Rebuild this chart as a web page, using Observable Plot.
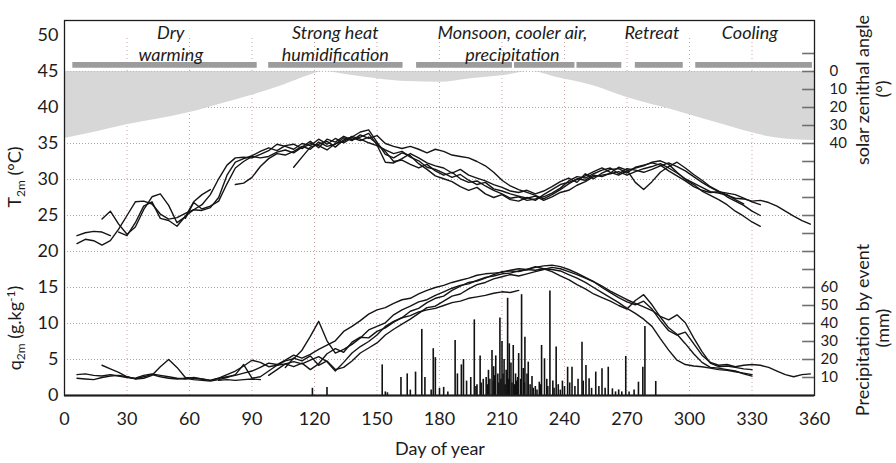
<!DOCTYPE html>
<html><head><meta charset="utf-8">
<script src="https://cdn.jsdelivr.net/npm/d3@7"></script>
<script src="https://cdn.jsdelivr.net/npm/@observablehq/plot@0.6"></script>
<style>html,body{margin:0;padding:0;background:#fff;}#chart{width:896px;height:463px;}</style>
</head><body><div id="chart"></div>
<script>
// ---- day grid (every 4 days) ----
const dayGrid = [2,6,10,14,18,22,26,30,34,38,
 42,46,50,54,58,62,66,70,74,78,
 82,86,90,94,98,102,106,110,114,118,
 122,126,130,134,138,142,146,150,154,158,
 162,166,170,174,178,182,186,190,194,198,
 202,206,210,214,218,222,226,230,234,238,
 242,246,250,254,258,262,266,270,274,278,
 282,286,290,294,298,302,306,310,314,318,
 322,326,330,334,338,342,346,350,354,358];
const _ = null;
// ---- 2 m temperature (°C), one array per year ----
const t1 = [_,21.1,21.7,21.5,20.9,21.5,23.1,25.0,26.9,27.0,
 26.6,25.2,24.5,24.7,25.3,25.8,25.7,26.1,27.5,30.6,
 32.4,32.9,33.3,33.9,34.4,34.0,34.7,34.9,34.3,35.0,
 34.7,34.1,35.0,35.3,36.0,35.6,35.1,34.7,34.1,33.6,
 33.9,33.1,32.6,31.7,31.4,30.9,30.3,30.7,29.9,29.3,
 29.6,28.7,28.4,28.0,27.7,27.4,27.7,27.1,27.6,28.2,
 28.5,29.2,29.7,30.4,30.6,30.8,31.1,30.6,31.1,31.5,
 31.8,32.2,31.6,30.9,30.1,29.5,28.9,28.3,28.1,27.8,
 27.4,27.3,27.0,27.1,26.8,26.3,25.6,24.9,24.3,23.8];
const t2 = [_,22.2,22.6,22.8,22.7,22.2,_,_,_,_,
 _,_,_,_,_,_,_,_,_,_,
 _,_,_,_,_,_,_,31.7,33.1,34.5,
 34.9,35.3,34.5,35.5,35.9,36.6,36.9,35.2,33.5,33.0,
 33.7,33.3,32.2,31.4,30.5,30.1,29.7,29.0,28.5,28.9,
 28.0,27.5,27.9,27.2,27.0,27.5,27.1,27.9,28.6,29.3,
 29.6,30.0,30.5,31.1,31.6,31.0,30.6,31.2,31.6,31.9,
 32.4,32.6,32.1,31.0,30.0,29.3,28.4,27.8,27.2,26.5,
 25.6,24.9,24.1,23.5,_,_,_,_,_,_];
const t3 = [_,_,_,_,24.5,25.6,23.8,22.4,23.4,25.8,
 27.6,28.0,26.4,24.0,24.8,26.9,27.9,28.6,_,_,
 29.3,29.5,30.3,31.8,32.9,33.6,33.4,33.9,34.6,34.2,
 35.2,34.6,34.9,35.8,35.4,36.2,35.7,36.1,35.0,34.6,
 34.3,34.6,34.2,33.7,34.2,33.9,33.4,33.2,33.0,32.5,
 31.9,31.0,29.9,29.1,28.6,28.2,27.8,27.3,27.9,28.6,
 29.4,30.1,29.9,30.6,30.4,30.9,31.7,31.3,29.6,28.6,
 29.7,31.0,31.8,32.4,31.6,30.7,29.9,29.0,28.4,27.6,
 27.0,26.4,25.6,25.0,_,_,_,_,_,_];
const t4 = [_,_,_,_,_,_,22.7,22.2,24.0,26.3,
 26.9,24.6,24.3,23.5,24.9,25.8,26.5,27.9,30.1,32.0,
 33.0,33.1,33.0,33.5,34.0,34.9,34.6,34.2,35.0,34.7,
 35.6,34.9,35.7,35.1,35.8,35.4,35.9,35.0,33.9,32.5,
 32.7,32.1,31.6,32.1,31.2,30.6,31.0,30.1,29.6,29.8,
 29.1,28.5,28.0,27.4,27.6,27.1,27.3,27.6,28.1,28.8,
 29.8,30.4,30.2,30.8,31.3,31.6,30.8,31.5,31.3,31.0,
 31.4,31.9,32.3,31.8,31.2,30.4,29.6,28.9,28.3,28.1,
 27.9,27.4,26.9,26.5,_,_,_,_,_,_];
const t5 = [_,_,_,_,_,_,_,_,_,_,
 _,_,_,_,24.6,26.8,25.9,26.3,27.0,29.4,
 31.6,32.5,33.2,33.0,33.2,33.8,34.1,33.7,34.5,35.3,
 34.4,35.6,35.2,36.0,35.5,35.9,36.4,34.8,32.4,32.3,
 32.9,33.6,33.0,32.3,31.9,31.6,30.9,31.4,30.6,30.2,
 29.8,29.3,28.9,28.4,28.2,28.5,28.0,28.4,29.0,29.7,
 30.2,29.6,30.8,30.1,30.9,31.4,31.5,30.9,31.7,32.0,
 32.3,32.0,31.2,30.5,29.8,29.0,28.5,28.2,28.3,27.9,
 27.2,26.6,_,_,_,_,_,_,_,_];
// ---- 2 m specific humidity (g/kg), one array per year ----
const q1 = [_,2.9,3.0,2.8,2.7,2.9,2.7,2.5,2.4,2.8,
 3.0,2.8,2.6,2.4,2.3,2.5,2.3,2.1,2.4,2.6,
 2.8,3.1,3.4,3.9,4.5,4.3,4.9,5.6,5.2,5.7,
 6.4,7.0,7.6,8.9,9.6,10.4,11.3,11.9,12.2,12.8,
 13.3,13.5,14.1,14.6,15.0,15.3,15.7,16.0,16.3,16.7,
 16.9,17.0,17.1,17.4,17.6,17.5,17.8,18.0,18.1,17.9,
 17.5,17.0,16.4,15.8,15.0,14.3,13.6,13.0,12.6,13.1,
 12.0,10.4,9.0,8.4,8.8,7.2,5.6,4.6,4.2,4.3,
 4.0,4.2,4.3,4.2,3.9,3.4,2.9,2.6,2.9,3.0];
const q2 = [_,2.4,2.3,2.2,2.5,2.7,2.8,2.6,2.3,2.4,
 2.8,4.0,5.0,3.9,2.5,2.4,2.3,2.1,2.4,2.9,
 3.4,4.1,4.9,4.6,4.0,4.2,4.8,5.1,6.3,8.2,
 10.3,7.6,5.9,6.4,7.1,8.0,9.1,9.6,10.1,11.2,
 11.9,12.4,13.0,13.3,13.9,14.4,14.9,15.3,15.5,16.0,
 16.4,16.6,16.9,17.0,17.3,17.5,17.4,17.6,17.5,17.3,
 16.8,16.3,15.7,15.0,14.3,13.6,12.9,12.1,11.4,10.6,
 9.6,7.9,6.3,4.9,4.3,4.1,4.0,3.8,3.6,3.5,
 3.3,3.1,2.9,_,_,_,_,_,_,_];
const q3 = [_,_,_,_,4.2,3.7,3.2,2.6,2.3,2.6,
 2.9,2.6,2.4,2.3,2.4,2.2,2.1,2.0,2.2,2.5,
 2.9,4.3,2.4,2.6,3.4,4.2,4.4,4.7,4.4,4.9,
 5.4,4.7,3.4,4.6,5.9,6.8,7.5,8.4,9.6,10.3,
 10.8,11.7,12.1,12.9,13.5,13.8,14.6,15.2,15.7,15.9,
 16.3,16.8,17.2,17.3,17.2,17.5,17.9,17.6,17.2,16.6,
 16.1,15.4,14.8,14.1,13.6,13.1,12.5,12.0,13.2,14.0,
 12.6,10.9,9.4,8.5,7.2,5.8,4.6,3.9,3.8,3.6,
 3.4,3.0,2.7,_,_,_,_,_,_,_];
const q4 = [_,_,_,_,_,_,_,_,_,_,
 _,_,_,_,_,_,_,_,2.1,2.2,
 2.1,2.2,2.3,2.2,_,_,3.9,5.2,4.8,5.5,
 4.2,4.8,3.6,3.9,4.8,5.9,6.6,7.3,8.4,9.2,
 9.9,10.6,11.4,12.2,12.4,13.1,13.8,14.1,14.8,15.4,
 15.7,16.2,16.5,16.8,16.6,16.9,17.2,17.5,17.8,17.6,
 17.2,16.8,16.3,15.8,15.2,14.5,13.9,13.3,12.8,12.3,
 11.8,11.0,10.5,11.2,10.1,8.0,6.1,4.5,4.0,4.1,
 3.9,3.7,3.6,_,_,_,_,_,_,_];
const q5 = [_,_,_,_,_,_,_,_,_,_,
 _,_,_,_,_,_,_,_,_,_,
 _,_,_,_,2.8,3.6,4.4,4.0,4.5,3.6,
 4.4,5.8,6.5,6.0,7.4,8.1,8.0,8.9,9.4,10.2,
 10.8,11.1,11.6,11.9,12.1,12.5,12.9,13.1,13.5,13.7,
 13.9,14.2,14.4,14.3,14.6,_,_,_,_,_,
 _,_,_,_,_,_,_,_,_,_,
 _,_,_,_,_,_,_,_,_,_,
 _,_,_,_,_,_,_,_,_,_];
// ---- precipitation by event: day of year, mm ----
const rainDay = [119,126,152.5,154,155,161.5,164.5,166,168.5,171.5,173,176,177,178,180,182,184,
 187.5,188.6,190.5,191.5,193,195,196.7,197.5,198,199.5,200,201,202.4,203,203.5,204.2,205.2,205.8,206,206.5,207,208,208.5,209,209.5,210,210.5,211,211.5,212,
 212.7,213,213.5,214.3,214.8,215.4,216,216.5,217,217.5,218,219,219.4,220.2,220.8,221,222,222.6,223.5,224.4,225,226,226.8,227.9,228.5,229,230.4,231.5,232,
 233,234.4,235,236,237,238,239,240,241.5,242.5,243.6,245,246.5,248.4,249,250.3,251.8,253,255,256.5,258,259.5,261,263,264.5,266,267.5,269.4,271,273.4,275.5,277.6,278.6,283.8];
const rainMm = [4,4.5,17,2,1.5,10,12,3,13,36.7,10,3,26,21,4,4.5,2,
 30.5,12,17,20,8,10,42,5,6,22,7,9,10,6,14,9,25,8,16,11,22,12,7,43,9,30,12,20,6,14,
 54,9,28.7,18,7,27.8,6,12,8,10,23.3,9,56,15,7,32.4,12,18.5,6,10.6,4,5,3,7.4,6,27.8,20.4,9,5,
 58,8,4,26.9,6,3,8,5,15.7,7,15.7,5,9,29.6,8,16.7,9.3,4,13,5,14.8,4,15.7,3.7,2,3.1,2,21.7,2,3,7.4,15.7,38.3,7.8];
// ---- solar zenith angle at noon (degrees) ----
const zenDay = [0,15,30,45,60,75,90,105,118,124,135,150,165,180,195,210,224,236,253,270,293,314,341,360];
const zenAngle = [37.2,33.6,29.6,26.4,22.8,18,13.2,7.6,2,0,1.6,4,5.6,6,4,2.4,0,3.2,7.6,14.4,21.6,28.8,36.8,38.4];
// ---- seasonal phases ----
const phaseStart = [4,98,169,216,246,274,303];
const phaseEnd = [92.5,162.5,215,245,267.5,297,359];
const phaseLabel = ["Dry\nwarming","Strong heat\nhumidification","Monsoon, cooler air,\nprecipitation","Retreat","Cooling"];
const phaseLabelDay = [51,130,215,282,329];
// ---- ticks ----
const xTicks = [0,30,60,90,120,150,180,210,240,270,300,330,360];
const leftTicks = [0,5,10,15,20,25,30,35,40,45,50];
const zenTicks = [0,10,20,30,40];
const rainTicks = [10,20,30,40,50,60];
const gridY = [5,10,15,20,25,30,35,40,45];
const gridX = [30,60,90,120,150,180,210,240,270,300,330];

// conversions between the secondary axes and the left-axis units
const zenTop = 45, zenK = 0.25;   // units per degree of zenith angle
const rainK = 0.25;               // units per mm
const rightTickVals = d3.range(2.5, 48, 2.5);

const mkLines = (arrs) => arrs.flatMap((a, k) => a.map((v, i) => ({day: dayGrid[i], v, s: k})));
const tData = mkLines([t1,t2,t3,t4,t5]);
const qData = mkLines([q1,q2,q3,q4,q5]);
const rain = rainDay.map((d, i) => ({day: d, mm: rainMm[i]}));
const zen = zenDay.map((d, i) => ({day: d, a: zenAngle[i]}));
const phases = phaseStart.map((s, i) => ({s, e: phaseEnd[i]}));
const labels = phaseLabel.map((t, i) => ({t, day: phaseLabelDay[i]}));

const ink = "#1c1c1c";
const chart = Plot.plot({
  width: 896, height: 463,
  marginLeft: 64, marginRight: 82, marginTop: 20, marginBottom: 68,
  x: {domain: [0, 360]},
  y: {domain: [0, 52.083]},
  style: {fontFamily: "Lato", background: "white", color: ink, overflow: "visible"},
  marks: [
    Plot.ruleY(gridY, {stroke: "#a8a8a8", strokeWidth: 1.2, strokeDasharray: "1,2"}),
    Plot.ruleX(gridX, {y1: 0, y2: 50, stroke: "#c4a9a9", strokeWidth: 1, strokeDasharray: "1,3"}),
    Plot.areaY(zen, {x: "day", y1: d => zenTop - d.a * zenK, y2: zenTop, fill: "#d7d7d7", curve: "monotone-x"}),
    Plot.ruleY([zenTop], {stroke: "#bdbdbd", strokeWidth: 1, strokeDasharray: "1,2"}),
    Plot.rect(phases, {x1: "s", x2: "e", y1: 45.45, y2: 46.25, fill: "#9c9c9c"}),
    Plot.text(labels, {x: "day", y: 51.65, text: "t", fontSize: 18, fontStyle: "italic", lineAnchor: "top", lineHeight: 1.2, fill: ink}),
    Plot.ruleX(rain, {x: "day", y1: 0, y2: d => d.mm * rainK, stroke: "#111", strokeWidth: 1.6}),
    Plot.line(qData, {x: "day", y: "v", z: "s", stroke: "#151515", strokeWidth: 1.4}),
    Plot.line(tData, {x: "day", y: "v", z: "s", stroke: "#151515", strokeWidth: 1.4}),
    Plot.ruleY(rightTickVals, {x1: 354.3, x2: 360, stroke: "#707070", strokeWidth: 1.6}),
    Plot.frame({stroke: ink, strokeWidth: 1.3}),
    Plot.ruleY([0], {stroke: ink, strokeWidth: 2}),
    Plot.axisX(xTicks, {tickSize: 0, tickPadding: 17, fontSize: 18, label: null}),
    Plot.axisY(leftTicks, {tickSize: 0, tickPadding: 6, fontSize: 18, label: null}),
    Plot.axisY(zenTicks.map(a => zenTop - a * zenK), {anchor: "right", tickSize: 0, tickPadding: 15, fontSize: 15, label: null,
      tickFormat: v => String(Math.round((zenTop - v) / zenK))}),
    Plot.axisY(rainTicks.map(m => m * rainK), {anchor: "right", tickSize: 0, tickPadding: 6, fontSize: 15, label: null,
      tickFormat: v => String(Math.round(v / rainK))})
  ]
});
document.getElementById("chart").appendChild(chart);

const svg = d3.select(chart);
function rotText(x, y, parts) {
  const t = svg.append("text")
    .attr("transform", `translate(${x},${y}) rotate(-90)`)
    .attr("text-anchor", "middle").attr("font-family", "Lato")
    .attr("font-size", 18).attr("fill", ink);
  parts.forEach(p => {
    const s = t.append("tspan").text(p.t);
    if (p.fs) s.attr("font-size", p.fs);
    if (p.dy) s.attr("dy", p.dy);
  });
}
rotText(21, 177, [{t: "T"}, {t: "2m", fs: 12, dy: 4}, {t: " (°C)", dy: -4}]);
rotText(21, 328, [{t: "q"}, {t: "2m", fs: 12, dy: 4}, {t: " (g.kg", dy: -4}, {t: "-1", fs: 12, dy: -6}, {t: ")", dy: 6}]);
rotText(869, 90, [{t: "solar zenithal angle"}]);
rotText(889, 89, [{t: "(°)"}]);
rotText(869, 330, [{t: "Precipitation by event"}]);
rotText(889, 328, [{t: "(mm)"}]);
svg.append("text").attr("x", 440).attr("y", 455).attr("text-anchor", "middle")
  .attr("font-family", "Lato").attr("font-size", 18).attr("fill", ink).text("Day of year");
</script>
</body></html>
